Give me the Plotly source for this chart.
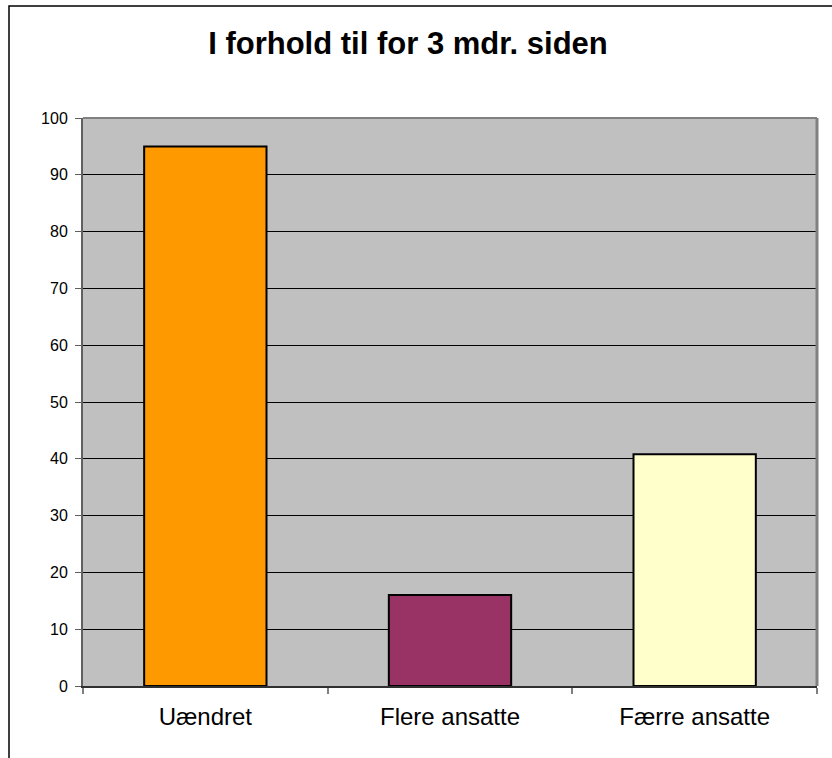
import plotly.graph_objects as go

categories = ["Uændret", "Flere ansatte", "Færre ansatte"]
values = [95, 16, 40.8]
colors = ["#FF9900", "#993366", "#FFFFCC"]
y_ticks = [0, 10, 20, 30, 40, 50, 60, 70, 80, 90, 100]
title_text = "I forhold til for 3 mdr. siden"

W, H = 832, 758
ml, mr, mt, mb = 83, 15, 118, 72
pw, ph = W - ml - mr, H - mt - mb

def px_x(x):
    return (x - ml) / pw

def px_y(y):
    return (H - mb - y) / ph

fig = go.Figure(go.Bar(
    x=categories, y=values, width=0.5,
    marker=dict(color=colors, line=dict(color="black", width=2)),
    hoverinfo="x+y",
))

fig.update_layout(
    width=W, height=H,
    margin=dict(l=ml, r=mr, t=mt, b=mb),
    paper_bgcolor="white",
    plot_bgcolor="#C0C0C0",
    showlegend=False,
    font=dict(family="Liberation Sans, Arial, sans-serif", color="black"),
    title=dict(text="<b>" + title_text + "</b>", x=408 / W, xref="container",
               xanchor="center", y=1 - 43 / H, yref="container", yanchor="middle",
               font=dict(size=31, color="black")),
    bargap=0.5,
)

fig.update_yaxes(
    range=[0, 100], tickvals=y_ticks, ticktext=[str(v) for v in y_ticks],
    showgrid=True, gridcolor="black", gridwidth=1,
    showline=True, linecolor="#606060", linewidth=2,
    ticks="outside", ticklen=6, tickcolor="#606060", tickwidth=1,
    tickfont=dict(size=16, color="black"), ticklabelstandoff=4,
    zeroline=False, fixedrange=True,
)
fig.update_xaxes(
    showgrid=False, showline=True, linecolor="#303030", linewidth=2,
    ticks="outside", ticklen=6, tickcolor="#808080", tickwidth=2,
    tickson="boundaries",
    tickfont=dict(size=24, color="black"), ticklabelstandoff=8,
    fixedrange=True,
)

# plot area top/right border (gray)
fig.add_shape(type="line", xref="paper", yref="paper", x0=0, x1=1, y0=1, y1=1,
              line=dict(color="#808080", width=2))
fig.add_shape(type="line", xref="paper", yref="paper", x0=1, x1=1, y0=0, y1=1,
              line=dict(color="#808080", width=3))
# outer chart border
fig.add_shape(type="rect", xref="paper", yref="paper",
              x0=px_x(9), x1=px_x(845), y0=px_y(780), y1=px_y(6),
              line=dict(color="black", width=1.5), fillcolor="rgba(0,0,0,0)",
              layer="below")

fig.write_html("out.html", config={"displayModeBar": False},
               post_script="document.body.style.margin='0px';")
